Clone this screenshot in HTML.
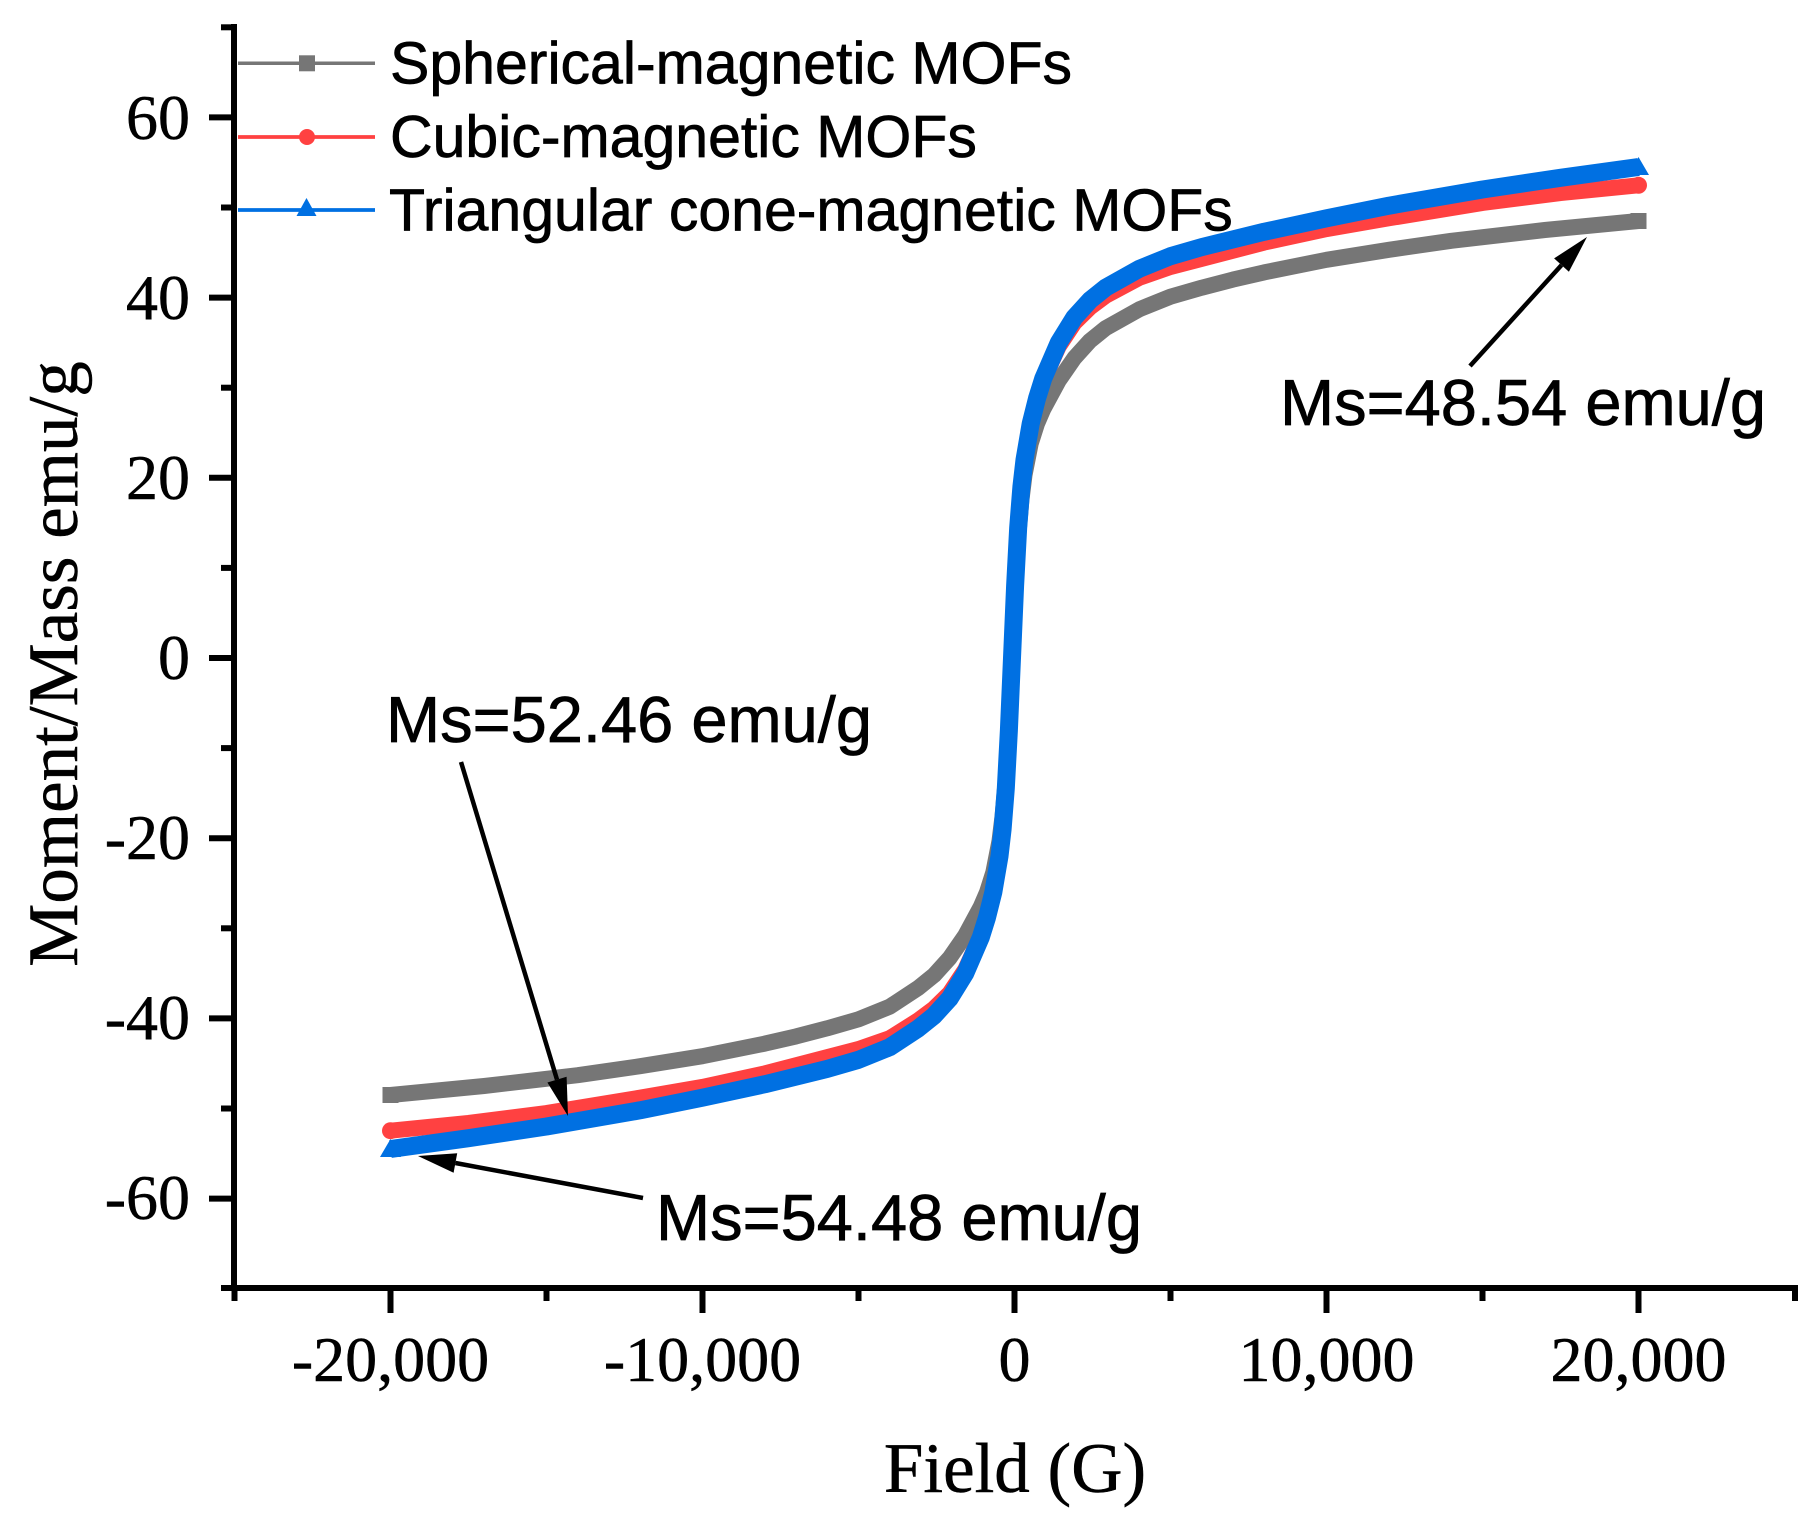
<!DOCTYPE html>
<html>
<head>
<meta charset="utf-8">
<style>
  html, body { margin: 0; padding: 0; background: #ffffff; }
  svg { display: block; }
  .serif { font-family: "Liberation Serif", "Times New Roman", serif; fill: #000; stroke: #000; stroke-width: 0.5; }
  .sans { font-family: "Liberation Sans", Arial, sans-serif; fill: #000; stroke: #000; stroke-width: 0.7; }
</style>
</head>
<body>
<svg width="1820" height="1523" viewBox="0 0 1820 1523" xmlns="http://www.w3.org/2000/svg">
  <rect x="0" y="0" width="1820" height="1523" fill="#ffffff"/>

  <!-- Curves -->
  <g fill="none" stroke-linejoin="round" stroke-linecap="butt">
    <polyline stroke="#767676" stroke-width="16" points="390.5,1095.0 484.1,1086.0 577.7,1075.2 640.1,1066.2 702.5,1056.2 764.9,1043.6 796.1,1036.4 827.3,1028.3 858.5,1019.3 889.7,1006.7 918.4,987.8 934.0,975.2 949.6,958.0 965.2,935.5 980.8,906.7 987.0,892.3 993.3,872.4 999.5,840.9 1002.6,815.7 1005.8,779.6 1008.9,725.6 1012.0,658 1015.1,590.4 1018.2,536.4 1021.4,500.3 1024.5,475.1 1030.7,443.6 1037.0,423.7 1043.2,409.3 1058.8,380.5 1074.4,358.0 1090.0,340.8 1105.6,328.2 1139.3,309.3 1170.5,296.7 1201.7,287.7 1232.9,279.6 1264.1,272.4 1326.5,259.8 1388.9,249.8 1451.3,240.8 1544.9,230.0 1638.5,221.0"/>
    <polyline stroke="#FF4141" stroke-width="16" points="390.5,1130.7 468.5,1122.9 546.5,1113.0 640.1,1097.7 702.5,1086.9 764.9,1073.4 827.3,1057.1 858.5,1049.0 889.7,1038.2 918.4,1020.2 934.0,1008.5 949.6,993.2 965.2,969.7 980.8,935.5 987.0,916.6 993.3,892.3 999.5,856.2 1002.6,829.2 1005.8,788.6 1008.9,730.1 1012.0,658 1015.1,585.9 1018.2,527.4 1021.4,486.8 1024.5,459.8 1030.7,423.7 1037.0,399.4 1043.2,380.5 1058.8,346.3 1074.4,322.8 1090.0,307.5 1105.6,295.8 1139.3,277.8 1170.5,267.0 1201.7,258.9 1264.1,242.6 1326.5,229.1 1388.9,218.3 1482.5,203.0 1560.5,193.1 1638.5,185.3"/>
    <polyline stroke="#0070E2" stroke-width="18" points="390.5,1149.0 468.5,1138.2 546.5,1126.5 640.1,1110.3 702.5,1097.7 764.9,1084.2 827.3,1068.9 858.5,1059.8 889.7,1047.2 918.4,1028.3 934.0,1015.7 949.6,998.6 965.2,973.4 980.8,937.3 987.0,917.5 993.3,892.3 999.5,856.2 1002.6,829.2 1005.8,788.6 1008.9,730.1 1012.0,658 1015.1,585.9 1018.2,527.4 1021.4,486.8 1024.5,459.8 1030.7,423.7 1037.0,398.5 1043.2,378.7 1058.8,342.6 1074.4,317.4 1090.0,300.3 1105.6,287.7 1139.3,268.8 1170.5,256.2 1201.7,247.1 1264.1,231.8 1326.5,218.3 1388.9,205.7 1482.5,189.5 1560.5,177.8 1638.5,167.0"/>
  </g>
  <!-- end markers -->
  <rect x="382.5" y="1087" width="16" height="16" fill="#767676"/>
  <rect x="1630.5" y="213" width="16" height="16" fill="#767676"/>
  <circle cx="390.5" cy="1130.7" r="8.5" fill="#FF4141"/>
  <circle cx="1638.5" cy="185.3" r="8.5" fill="#FF4141"/>
  <polygon points="390.5,1139 380,1157 401,1157" fill="#0070E2"/>
  <polygon points="1638.5,157 1628,175 1649,175" fill="#0070E2"/>

  <!-- Axes -->
  <g stroke="#000" stroke-width="6" fill="none">
    <line x1="234" y1="24" x2="234" y2="1291"/>
    <line x1="231" y1="1288" x2="1798" y2="1288"/>
    <line x1="209" y1="117.4" x2="234" y2="117.4"/>
    <line x1="209" y1="297.6" x2="234" y2="297.6"/>
    <line x1="209" y1="477.8" x2="234" y2="477.8"/>
    <line x1="209" y1="658" x2="234" y2="658"/>
    <line x1="209" y1="838.2" x2="234" y2="838.2"/>
    <line x1="209" y1="1018.4" x2="234" y2="1018.4"/>
    <line x1="209" y1="1198.6" x2="234" y2="1198.6"/>
    <line x1="221" y1="27.3" x2="234" y2="27.3"/>
    <line x1="221" y1="207.5" x2="234" y2="207.5"/>
    <line x1="221" y1="387.7" x2="234" y2="387.7"/>
    <line x1="221" y1="567.9" x2="234" y2="567.9"/>
    <line x1="221" y1="748.1" x2="234" y2="748.1"/>
    <line x1="221" y1="928.3" x2="234" y2="928.3"/>
    <line x1="221" y1="1108.5" x2="234" y2="1108.5"/>
    <line x1="221" y1="1288" x2="234" y2="1288"/>
    <line x1="390.5" y1="1288" x2="390.5" y2="1313"/>
    <line x1="702.5" y1="1288" x2="702.5" y2="1313"/>
    <line x1="1014.5" y1="1288" x2="1014.5" y2="1313"/>
    <line x1="1326.5" y1="1288" x2="1326.5" y2="1313"/>
    <line x1="1638.5" y1="1288" x2="1638.5" y2="1313"/>
    <line x1="234.5" y1="1288" x2="234.5" y2="1301"/>
    <line x1="546.5" y1="1288" x2="546.5" y2="1301"/>
    <line x1="858.5" y1="1288" x2="858.5" y2="1301"/>
    <line x1="1170.5" y1="1288" x2="1170.5" y2="1301"/>
    <line x1="1482.5" y1="1288" x2="1482.5" y2="1301"/>
    <line x1="1795" y1="1288" x2="1795" y2="1301"/>
  </g>

  <!-- Y tick labels -->
  <g class="serif" font-size="64" text-anchor="end">
    <text x="190" y="139">60</text>
    <text x="190" y="319">40</text>
    <text x="190" y="499">20</text>
    <text x="190" y="679">0</text>
    <text x="190" y="859">-20</text>
    <text x="190" y="1039">-40</text>
    <text x="190" y="1219">-60</text>
  </g>
  <!-- X tick labels -->
  <g class="serif" font-size="64" text-anchor="middle">
    <text x="390.5" y="1381">-20,000</text>
    <text x="702.5" y="1381">-10,000</text>
    <text x="1014.5" y="1381">0</text>
    <text x="1326.5" y="1381">10,000</text>
    <text x="1638.5" y="1381">20,000</text>
  </g>

  <!-- Axis titles -->
  <text class="serif" font-size="71" text-anchor="middle" x="1015" y="1492">Field (G)</text>
  <text class="serif" font-size="71" text-anchor="middle" transform="translate(77,664) rotate(-90)">Moment/Mass emu/g</text>

  <!-- Legend -->
  <g>
    <line x1="238" y1="63.3" x2="375" y2="63.3" stroke="#767676" stroke-width="3.5"/>
    <rect x="299" y="55.3" width="16" height="16" fill="#767676"/>
    <line x1="238" y1="137" x2="375" y2="137" stroke="#FF4141" stroke-width="3.8"/>
    <circle cx="307" cy="137" r="8" fill="#FF4141"/>
    <line x1="238" y1="210" x2="375" y2="210" stroke="#0070E2" stroke-width="3.8"/>
    <polygon points="306.5,198 296.5,216 316.5,216" fill="#0070E2"/>
  </g>
  <g class="sans" font-size="59">
    <text x="390" y="83.5">Spherical-magnetic MOFs</text>
    <text x="390" y="157">Cubic-magnetic MOFs</text>
    <text x="389" y="230.5">Triangular cone-magnetic MOFs</text>
  </g>

  <!-- Annotations -->
  <g class="sans" font-size="65">
    <text x="1280" y="425">Ms=48.54 emu/g</text>
    <text x="386" y="742">Ms=52.46 emu/g</text>
    <text x="656" y="1240">Ms=54.48 emu/g</text>
  </g>
  <g stroke="#000" stroke-width="4.5">
    <line x1="1470" y1="366" x2="1561.5" y2="265.1"/>
    <line x1="461" y1="762" x2="557" y2="1079.6"/>
    <line x1="643" y1="1198" x2="455.4" y2="1163"/>
  </g>
  <g fill="#000">
    <polygon points="1587,237 1568.9,271.8 1554.1,258.4"/>
    <polygon points="568,1116 547.4,1082.5 566.6,1076.7"/>
    <polygon points="418,1156 457.2,1153.2 453.6,1172.8"/>
  </g>
</svg>
</body>
</html>
